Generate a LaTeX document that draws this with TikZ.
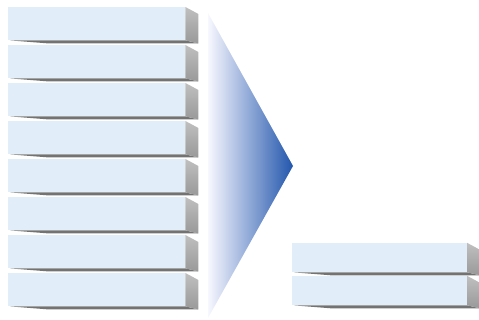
\documentclass[tikz,border=0pt]{standalone}
\usetikzlibrary{calc}
\definecolor{barface}{HTML}{E1EDF9}
\definecolor{tipblue}{HTML}{2256AC}
\tikzstyle{bar} = [rectangle, fill=barface, draw=none, inner sep=0pt,
    minimum width=177pt, anchor=north west]
\tikzstyle{side} = [top color=gray!50, bottom color=gray!80]
\tikzstyle{under} = [fill=black!55]

\begin{document}
\begin{tikzpicture}[x=1pt, y=-1pt]
    \useasboundingbox (0,0) rectangle (479,320);

    % Place bars
    \foreach \i in {1,...,8}
        \node [bar, minimum height=33pt] (l\i) at (8,{7+(\i-1)*38}) {};
    \node [bar, minimum height=29pt, minimum width=175pt] (r1) at (292,243) {};
    \node [bar, minimum height=29pt, minimum width=175pt] (r2) at (292,276) {};

    % Draw sides and shadows
    \foreach \b in {l1,l2,l3,l4,l5,l6,l7,l8,r1,r2} {
        \fill [under] ($(\b.south west)+(2,0)$) -- (\b.south east) -- ++(13,3)
            -- ($(\b.south west)+(40,3)$) -- cycle;
        \shade [side] (\b.north east) -- ++(13,7) -- ($(\b.south east)+(13,3)$)
            -- (\b.south east) -- cycle;
    }

    % Funnel
    \coordinate (top) at (208,13);
    \coordinate (tip) at (293,166);
    \coordinate (bot) at (208,318);
    \shade [left color=blue!3, right color=tipblue] (top) -- (tip) -- (bot) -- cycle;
\end{tikzpicture}
\end{document}
